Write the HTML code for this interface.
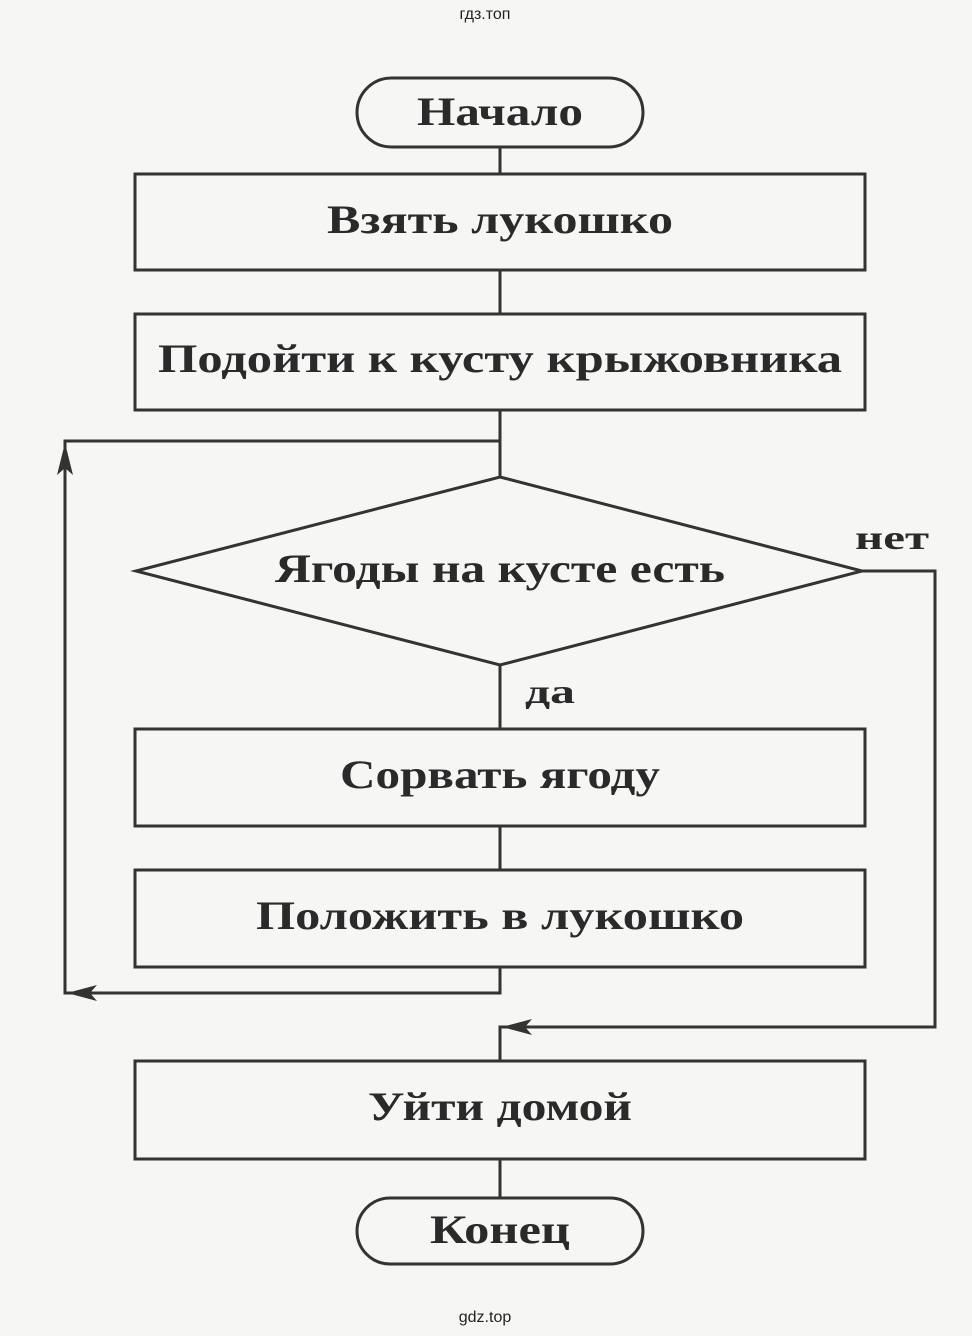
<!DOCTYPE html>
<html><head><meta charset="utf-8"><style>
html,body{margin:0;padding:0;background:#f6f6f4;}
svg{display:block;}
text{font-family:"Liberation Serif",serif;font-weight:bold;fill:#2a2a2a;}
.s{font-family:"Liberation Sans",sans-serif;font-weight:normal;fill:#222;}
</style></head><body>
<svg width="972" height="1336" viewBox="0 0 972 1336" xmlns="http://www.w3.org/2000/svg">
<rect width="972" height="1336" fill="#f6f6f4"/>
<g stroke="#333" stroke-width="3" fill="none">
<rect x="357" y="78" width="286" height="69" rx="34.5"/>
<line x1="500" y1="147" x2="500" y2="174"/>
<rect x="135" y="174" width="730" height="96"/>
<line x1="500" y1="270" x2="500" y2="314"/>
<rect x="135" y="314" width="730" height="96"/>
<line x1="500" y1="410" x2="500" y2="477"/>
<polyline points="500,441 65,441 65,993 500,993 500,967"/>
<polygon points="500,477 862,571 500,665 136,571"/>
<polyline points="862,571 935,571 935,1027 500,1027 500,1061"/>
<line x1="500" y1="665" x2="500" y2="729"/>
<rect x="135" y="729" width="730" height="97"/>
<line x1="500" y1="826" x2="500" y2="870"/>
<rect x="135" y="870" width="730" height="97"/>
<rect x="135" y="1061" width="730" height="98"/>
<line x1="500" y1="1159" x2="500" y2="1198"/>
<rect x="357" y="1198" width="286" height="66" rx="33"/>
</g>
<g fill="#333">
<path d="M65,443 L57,475 L65,468 L73,475 Z"/>
<path d="M67,993 L97,985 L90,993 L97,1001 Z"/>
<path d="M502,1027 L532,1019 L525,1027 L532,1035 Z"/>
</g>
<text class="s" x="485" y="19" font-size="16" text-anchor="middle">гдз.топ</text>
<text x="500" y="125" font-size="40" text-anchor="middle" textLength="166" lengthAdjust="spacingAndGlyphs">Начало</text>
<text x="500" y="233" font-size="40" text-anchor="middle" textLength="346" lengthAdjust="spacingAndGlyphs">Взять лукошко</text>
<text x="500" y="372" font-size="40" text-anchor="middle" textLength="684" lengthAdjust="spacingAndGlyphs">Подойти к кусту крыжовника</text>
<text x="500" y="582" font-size="40" text-anchor="middle" textLength="450" lengthAdjust="spacingAndGlyphs">Ягоды на кусте есть</text>
<text x="892" y="549" font-size="34" text-anchor="middle" textLength="74" lengthAdjust="spacingAndGlyphs">нет</text>
<text x="550" y="703" font-size="34" text-anchor="middle" textLength="50" lengthAdjust="spacingAndGlyphs">да</text>
<text x="500" y="788" font-size="40" text-anchor="middle" textLength="320" lengthAdjust="spacingAndGlyphs">Сорвать ягоду</text>
<text x="500" y="929" font-size="40" text-anchor="middle" textLength="488" lengthAdjust="spacingAndGlyphs">Положить в лукошко</text>
<text x="500" y="1120" font-size="40" text-anchor="middle" textLength="264" lengthAdjust="spacingAndGlyphs">Уйти домой</text>
<text x="500" y="1243" font-size="40" text-anchor="middle" textLength="140" lengthAdjust="spacingAndGlyphs">Конец</text>
<text class="s" x="485" y="1322" font-size="16" text-anchor="middle">gdz.top</text>
</svg>
</body></html>
